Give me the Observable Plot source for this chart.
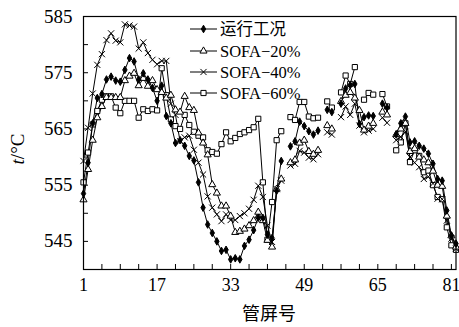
<!DOCTYPE html>
<html><head><meta charset="utf-8">
<script src="https://cdn.jsdelivr.net/npm/d3@7"></script>
<script src="https://cdn.jsdelivr.net/npm/@observablehq/plot@0.6"></script>
<style>
body{margin:0;background:#fff;}
#wrap{position:relative;width:459px;height:327px;}
#wrap svg{position:absolute;left:0;top:0;}
</style></head><body><div id="wrap"></div>
<script>
const tubes = d3.range(1, 83);
const seriesNames = ["运行工况", "SOFA−20%", "SOFA−40%", "SOFA−60%"];
const xTickLabels = [1, 17, 33, 49, 65, 81];
const yTickLabels = [545, 555, 565, 575, 585];
const xLabel = "管屏号";

const runValues = [553.5,559,566,570.5,571.2,573.8,574.3,573.6,573.4,575.5,
577.6,577,573.8,574.9,573.8,572.3,570,572.7,567.3,566,
562.5,563,562,560.2,559.4,555.5,551,548,546.5,545,
543.3,543.5,541.8,542,541.8,544.2,545.3,547,549.2,549.2,
546.2,545.6,554,559.3,null,561.9,562.8,566.3,565.5,564.6,
564,564.7,null,568.4,568,null,569.5,572.2,572.8,573,
565.9,567.1,567.4,567.3,null,569.5,568.8,null,564,566,
567.2,562.6,562.8,562,561.5,560.6,558.8,556.1,555.8,550.5,
546,544.6];
const sofa20 = [552.4,557.8,563,567,569,570.6,570.6,570.6,570.6,573.6,
574.4,574.9,572.7,574,572.6,573.6,572,571.5,570.5,571,
568.4,568,570.8,568.8,568.3,564.3,562.5,560.4,555.1,553.6,
551.3,551.3,549.5,546.6,546.8,547.2,547.8,548.7,550.2,548.7,
545.2,544,554.3,556.1,null,559,559.5,562.5,563,561,
560.5,561.2,null,565.6,565,null,569.9,571,571.5,570.5,
568.3,564.8,565.5,566,null,568,567.5,null,564,565,
566,561,561.5,560,559.5,559,557.5,555,554.8,549.5,
546,544];
const sofa40 = [559.3,565.2,571.3,576.4,578.3,580.8,582,580.7,580.4,583.6,
583.4,583.2,579.3,580.4,578.5,577.3,576.5,577.1,577.1,569.5,
567.5,562.8,563.5,563.8,561.3,559,556.9,553,551,549.8,
548.6,549.8,548.8,548.8,549.5,550,550.8,552.4,554.9,552.9,
547.8,544.9,554.3,555.8,null,558.5,558.8,561.1,560.8,559.9,
559.6,560.5,null,564.4,564,null,567.1,569,567.5,569.5,
565.6,564.4,564.7,565,null,567,566.1,null,563,563.6,
564.5,560,559,558.2,556.1,556.5,555.3,552.6,552.5,548.7,
545.5,543.7];
const sofa60 = [555.5,560.8,565.8,568.2,570.2,570.8,570.8,568.8,567.8,570,
570,570,567,568.5,568.2,568.5,568.3,575.8,571,566.7,
565.5,565,567.5,565.7,564.5,563.8,563.5,561.2,560.9,560.6,
562.3,564.4,562.8,563.4,564.1,564.4,564.8,565.3,566.8,555.5,
545.3,552,563,564.6,null,567.1,566.6,569.8,569.8,567.2,
566.9,567,null,569.9,568.8,null,571.5,574.5,573,576,
null,570.2,571.4,571.1,null,571.2,569,null,561.2,562.6,
566,559.1,561.2,560.2,557.3,557.6,555,552.9,552.5,547.5,
544.3,543.5];

const seriesValues = [runValues, sofa20, sofa40, sofa60];
const symbols = ["diamond", "triangle2", "times", "square2"];
const fills = ["black", "white", "none", "white"];
const radii = [2.3, 3.4, 2.9, 3.3];

const data = [];
seriesNames.forEach((name, s) => {
  tubes.forEach((t, i) => data.push({series: name, tube: t, value: seriesValues[s][i]}));
});

const W = 459, H = 327, mL = 83, mR = 3.5, mT = 16, mB = 58;
const font = "'Liberation Serif', 'Times New Roman', 'Noto Sans CJK SC', serif";

const marks = [];
// inward tick marks
marks.push(Plot.ruleX(d3.range(1, 82, 4), {stroke: "black", strokeWidth: 1, insetTop: (H - mT - mB) - 5}));
marks.push(Plot.ruleY(d3.range(545, 585, 5), {stroke: "black", strokeWidth: 1, insetRight: (W - mL - mR) - 5}));
seriesNames.forEach((name, s) => {
  marks.push(Plot.line(data.filter(d => d.series === name), {x: "tube", y: "value", stroke: "black", strokeWidth: 1}));
});
[3, 2, 1, 0].forEach(s => {
  marks.push(Plot.dot(data.filter(d => d.series === seriesNames[s]), {
    x: "tube", y: "value", symbol: () => symbols[s], r: radii[s],
    fill: fills[s], stroke: "black", strokeWidth: 1
  }));
});
marks.push(Plot.frame({stroke: "black", strokeWidth: 1.2}));
marks.push(Plot.axisX(xTickLabels, {tickSize: 0, tickPadding: 9, fontSize: 18, label: null}));
marks.push(Plot.axisY(yTickLabels, {tickSize: 0, tickPadding: 11, fontSize: 19, label: null}));

const chart = Plot.plot({
  width: W, height: H,
  marginLeft: mL, marginRight: mR, marginTop: mT, marginBottom: mB,
  style: {fontFamily: font, color: "black", background: "white"},
  x: {domain: [1, 82], axis: null},
  y: {domain: [540, 585], axis: null},
  symbol: {type: "identity"},
  marks
});
document.getElementById("wrap").appendChild(chart);

// overlay: legend and axis titles
const ov = d3.select("#wrap").append("svg").attr("width", W).attr("height", H)
  .style("font-family", font);
const legendY = [29, 51, 72, 93];
seriesNames.forEach((name, s) => {
  const g = ov.append("g").attr("transform", `translate(0,${legendY[s]})`);
  g.append("line").attr("x1", 190).attr("x2", 217).attr("y1", 0).attr("y2", 0).attr("stroke", "black");
  const size = Math.PI * radii[s] * radii[s];
  const sym = {diamond: d3.symbolDiamond, triangle2: d3.symbolTriangle2, times: d3.symbolTimes, square2: d3.symbolSquare2}[symbols[s]];
  g.append("path").attr("d", d3.symbol(sym, size)()).attr("transform", "translate(203.5,0)")
    .attr("fill", fills[s]).attr("stroke", "black");
  g.append("text").attr("x", 220).attr("y", 0).attr("dy", "0.35em")
    .attr("font-size", 16.5).text(name);
});
const yl = ov.append("text").attr("transform", "translate(24,149) rotate(-90)")
  .attr("text-anchor", "middle").attr("font-size", 19);
yl.append("tspan").attr("font-style", "italic").text("t");
yl.append("tspan").text("/°C");
ov.append("text").attr("x", 269).attr("y", 320).attr("text-anchor", "middle")
  .attr("font-size", 18).attr("font-family", "'Noto Sans CJK SC', sans-serif").text(xLabel);
</script></body></html>
